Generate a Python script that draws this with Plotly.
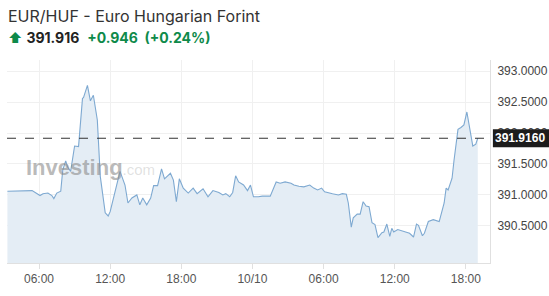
import plotly.graph_objects as go

# ---- data ----
times = [
    "2024-10-09 03:20", "2024-10-09 04:25", "2024-10-09 05:25", "2024-10-09 06:05", "2024-10-09 06:20",
    "2024-10-09 06:45", "2024-10-09 07:05", "2024-10-09 07:15", "2024-10-09 07:30", "2024-10-09 07:50",
    "2024-10-09 08:00", "2024-10-09 08:15", "2024-10-09 08:25", "2024-10-09 08:40", "2024-10-09 08:50",
    "2024-10-09 09:00", "2024-10-09 09:20", "2024-10-09 09:30", "2024-10-09 09:40", "2024-10-09 09:45",
    "2024-10-09 10:05", "2024-10-09 10:20", "2024-10-09 10:35", "2024-10-09 10:55", "2024-10-09 11:10",
    "2024-10-09 11:35", "2024-10-09 11:50", "2024-10-09 12:00", "2024-10-09 12:25", "2024-10-09 12:50",
    "2024-10-09 13:15", "2024-10-09 13:30", "2024-10-09 13:50", "2024-10-09 14:15", "2024-10-09 14:30",
    "2024-10-09 14:45", "2024-10-09 15:05", "2024-10-09 15:25", "2024-10-09 15:40", "2024-10-09 16:00",
    "2024-10-09 16:20", "2024-10-09 16:35", "2024-10-09 17:05", "2024-10-09 17:20", "2024-10-09 17:35",
    "2024-10-09 17:50", "2024-10-09 18:10", "2024-10-09 18:35", "2024-10-09 19:00", "2024-10-09 19:20",
    "2024-10-09 19:50", "2024-10-09 20:15", "2024-10-09 20:40", "2024-10-09 21:10", "2024-10-09 21:30",
    "2024-10-09 21:45", "2024-10-09 22:05", "2024-10-09 22:20", "2024-10-09 22:35", "2024-10-09 22:50",
    "2024-10-09 23:15", "2024-10-09 23:35", "2024-10-09 23:50", "2024-10-10 00:05", "2024-10-10 00:30",
    "2024-10-10 00:50", "2024-10-10 01:30", "2024-10-10 02:00", "2024-10-10 02:20", "2024-10-10 02:45",
    "2024-10-10 03:15", "2024-10-10 03:30", "2024-10-10 03:55", "2024-10-10 04:20", "2024-10-10 04:50",
    "2024-10-10 05:10", "2024-10-10 05:30", "2024-10-10 05:50", "2024-10-10 06:05", "2024-10-10 06:25",
    "2024-10-10 06:45", "2024-10-10 07:15", "2024-10-10 07:35", "2024-10-10 07:55", "2024-10-10 08:05",
    "2024-10-10 08:20", "2024-10-10 08:30", "2024-10-10 08:50", "2024-10-10 09:05", "2024-10-10 09:20",
    "2024-10-10 09:35", "2024-10-10 09:50", "2024-10-10 10:05", "2024-10-10 10:20", "2024-10-10 10:35",
    "2024-10-10 10:55", "2024-10-10 11:05", "2024-10-10 11:20", "2024-10-10 11:35", "2024-10-10 11:45",
    "2024-10-10 11:55", "2024-10-10 12:15", "2024-10-10 12:35", "2024-10-10 12:55", "2024-10-10 13:15",
    "2024-10-10 13:35", "2024-10-10 13:50", "2024-10-10 14:00", "2024-10-10 14:20", "2024-10-10 14:30",
    "2024-10-10 14:50", "2024-10-10 15:15", "2024-10-10 15:30", "2024-10-10 15:45", "2024-10-10 16:10",
    "2024-10-10 16:20", "2024-10-10 16:30", "2024-10-10 16:50", "2024-10-10 17:00", "2024-10-10 17:20",
    "2024-10-10 17:35", "2024-10-10 17:50", "2024-10-10 18:05", "2024-10-10 18:20", "2024-10-10 18:35",
    "2024-10-10 18:50", "2024-10-10 19:00",
]
prices = [
    391.06, 391.06, 391.07, 390.99, 391.02,
    391.03, 390.99, 390.94, 391.03, 391.06,
    391.40, 391.55, 391.45, 391.38, 391.60,
    391.79, 391.78, 392.21, 392.56, 392.57,
    392.77, 392.52, 392.61, 392.21, 391.30,
    390.71, 390.66, 390.73, 391.08, 391.38,
    391.16, 390.87, 390.95, 391.00, 390.84,
    390.95, 390.84, 390.95, 391.15, 391.15,
    391.42, 391.26, 391.35, 391.24, 390.89,
    391.26, 391.11, 391.03, 391.11, 391.02,
    391.10, 390.97, 391.07, 391.04, 391.00,
    391.02, 390.97, 391.04, 391.31, 391.21,
    391.16, 391.07, 391.16, 390.97, 390.97,
    390.98, 390.98, 391.21, 391.19, 391.21,
    391.19, 391.16, 391.14, 391.13, 391.16,
    391.11, 391.08, 391.11, 391.05, 391.04,
    391.02, 391.00, 391.02, 391.01, 390.87,
    390.48, 390.63, 390.69, 390.69, 390.89,
    390.82, 390.81, 390.55, 390.52, 390.31,
    390.39, 390.40, 390.53, 390.33, 390.46,
    390.40, 390.44, 390.42, 390.39, 390.38,
    390.32, 390.53, 390.51, 390.34, 390.38,
    390.57, 390.60, 390.59, 390.57, 390.87,
    391.11, 391.08, 391.27, 391.56, 392.06,
    392.09, 392.13, 392.34, 392.06, 391.79,
    391.82, 391.916,
]
last_price = 391.916
change = "+0.946"
change_pct = "(+0.24%)"
title = "EUR/HUF - Euro Hungarian Forint"

x_tickvals = ["2024-10-09 06:00", "2024-10-09 12:00", "2024-10-09 18:00", "2024-10-10 00:00",
              "2024-10-10 06:00", "2024-10-10 12:00", "2024-10-10 18:00"]
x_ticktext = ["06:00", "12:00", "18:00", "10/10", "06:00", "12:00", "18:00"]
y_tickvals = [390.5, 391.0, 391.5, 392.0, 392.5, 393.0]

fig = go.Figure()
fig.add_trace(go.Scatter(
    x=times, y=prices, mode="lines",
    line=dict(color="#7ea9d1", width=1.1),
    fill="tozeroy", fillcolor="#e4edf5",
    hoverinfo="skip",
))

fig.add_shape(type="line", xref="paper", x0=0, x1=1, yref="y", y0=last_price, y1=last_price,
              line=dict(color="#333333", width=1.2, dash="dash"))

# price label box at the right edge
fig.add_shape(type="rect", xref="paper", x0=1.006, x1=1.2, yref="y",
              y0=last_price - 0.145, y1=last_price + 0.145,
              fillcolor="#1c1c1c", line=dict(width=0), layer="above")
fig.add_annotation(xref="paper", x=1.0, yref="y", y=last_price, xanchor="left", yanchor="middle",
                   text="<b>%.4f</b>" % last_price, showarrow=False, xshift=3,
                   font=dict(family="Arial, Liberation Sans", size=12, color="white"))

# watermark
fig.add_annotation(xref="paper", yref="paper", x=0.035, y=0.47, xanchor="left", yanchor="middle",
                   text="<b>Investing</b><span style='font-size:15px;color:rgba(160,160,160,0.55)'>.com</span>",
                   showarrow=False,
                   font=dict(family="Arial, Liberation Sans", size=22, color="rgba(140,140,140,0.6)"))

# header
fig.add_annotation(xref="paper", yref="paper", x=0, y=1, xanchor="left", yanchor="bottom",
                   text=title, showarrow=False, yshift=32,
                   font=dict(family="Inter, Arial", size=16, color="#333333"), xshift=-1)
fig.add_annotation(xref="paper", yref="paper", x=0, y=1, xanchor="left", yanchor="bottom",
                   text="<span style='color:#0e8a4a'>⬆</span> <b>%.3f</b>  <span style='color:#0e8a4a'><b>%s  %s</b></span>" % (last_price, change, change_pct),
                   showarrow=False, yshift=12, xshift=-1,
                   font=dict(family="Inter, Arial", size=14, color="#222222"))

fig.update_layout(
    width=549, height=296,
    margin=dict(l=7, r=59, t=60, b=33, autoexpand=False),
    paper_bgcolor="white", plot_bgcolor="white",
    showlegend=False,
    xaxis=dict(
        range=["2024-10-09 03:18", "2024-10-10 20:02"],
        tickvals=x_tickvals, ticktext=x_ticktext,
        showgrid=True, gridcolor="#f0f0f0", gridwidth=1,
        showline=True, linecolor="#e0e0e0", linewidth=1,
        ticks="outside", ticklen=5, tickcolor="#e0e0e0",
        tickfont=dict(family="Arial, Liberation Sans", size=12, color="#555555"),
        zeroline=False, automargin=False,
    ),
    yaxis=dict(
        range=[389.90, 393.18], side="right",
        tickvals=y_tickvals, tickformat=".4f",
        showgrid=True, gridcolor="#f0f0f0", gridwidth=1,
        showline=True, linecolor="#e0e0e0", linewidth=1,
        ticks="", ticklabelstandoff=4,
        tickfont=dict(family="Arial, Liberation Sans", size=12, color="#444444"),
        zeroline=False, automargin=False,
    ),
)

fig.write_html("out.html")
